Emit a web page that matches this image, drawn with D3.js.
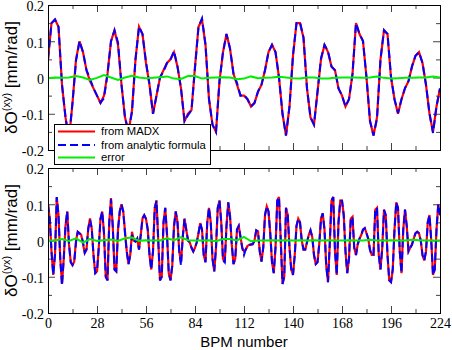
<!DOCTYPE html>
<html>
<head>
<meta charset="utf-8">
<script src="https://cdn.jsdelivr.net/npm/d3@7"></script>
<style>
  body { margin: 0; background: #fff; }
</style>
</head>
<body>
<svg id="chart" width="452" height="350"></svg>
<script>
// x axis: BPM index, one value every `step` BPMs
const bpmTicks = [0, 28, 56, 84, 112, 140, 168, 196, 224];
const bpmMinor = [14, 42, 70, 98, 126, 154, 182, 210];
const yTicks = [-0.2, -0.1, 0, 0.1, 0.2];
const yMinor = [-0.15, -0.05, 0.05, 0.15];
const legendLabels = ['from MADX', 'from analytic formula', 'error'];

const topStep = 2, bottomStep = 1, errStep = 4;

// dO(xy), read every 2 BPMs
const madxTop = [
  0.05, 0.15, 0.16, 0.14, -0.02, -0.11, -0.17, -0.07, 0.05, 0.10,
  0.07, 0.02, -0.01, -0.03, -0.05, -0.07, -0.05, 0.01, 0.10, 0.13,
  0.09, -0.02, -0.11, -0.15, -0.09, 0.05, 0.14, 0.12, 0.04, -0.02,
  -0.10, -0.05, 0.00, 0.02, 0.04, 0.05, 0.07, 0.03, -0.03, -0.12,
  -0.10, -0.09, 0.03, 0.14, 0.16, 0.09, -0.06, -0.13, -0.15, -0.01,
  0.07, 0.12, 0.08, 0.01, -0.02, -0.05, -0.05, -0.06, -0.08, -0.07,
  -0.04, -0.02, 0.02, 0.07, 0.09, 0.07, 0.00, -0.10, -0.16, -0.08,
  0.06, 0.15, 0.15, 0.11, -0.03, -0.11, -0.13, -0.04, 0.05, 0.09,
  0.07, 0.03, 0.02, -0.03, -0.05, -0.08, -0.06, 0.01, 0.15, 0.12,
  0.10, 0.00, -0.12, -0.16, -0.11, 0.05, 0.13, 0.12, 0.00, -0.06,
  -0.10, -0.06, -0.03, -0.01, 0.03, 0.06, 0.07, 0.04, -0.02, -0.10,
  -0.15, -0.08, -0.03
];
const analyticTop = [
  0.05, 0.15, 0.16, 0.14, -0.02, -0.11, -0.17, -0.07, 0.046, 0.10,
  0.07, 0.02, -0.003, -0.03, -0.05, -0.07, -0.057, 0.01, 0.10, 0.13,
  0.097, -0.02, -0.11, -0.15, -0.095, 0.05, 0.14, 0.12, 0.042, -0.02,
  -0.10, -0.05, 0.00, 0.017, 0.04, 0.05, 0.073, 0.03, -0.03, -0.12,
  -0.104, -0.09, 0.026, 0.14, 0.163, 0.09, -0.06, -0.13, -0.15, -0.01,
  0.07, 0.12, 0.08, 0.01, -0.015, -0.05, -0.047, -0.06, -0.08, -0.07,
  -0.038, -0.02, 0.02, 0.07, 0.09, 0.07, 0.00, -0.10, -0.16, -0.08,
  0.062, 0.15, 0.153, 0.11, -0.03, -0.11, -0.13, -0.04, 0.053, 0.09,
  0.073, 0.03, 0.02, -0.03, -0.05, -0.08, -0.06, 0.01, 0.15, 0.12,
  0.101, 0.00, -0.12, -0.16, -0.114, 0.05, 0.131, 0.12, 0.003, -0.06,
  -0.098, -0.06, -0.029, -0.01, 0.031, 0.06, 0.07, 0.04, -0.02, -0.10,
  -0.153, -0.08, -0.03
];
// error, read every 4 BPMs
const errorTop = [
  -0.002, 0, -0.001, 0, 0.004, 0, -0.007, -0.001, 0.007, 0,
  -0.007, 0, 0.005, 0, -0.002, -0.001, 0.001, 0.003, -0.003, -0.004,
  0.004, 0.004, -0.003, -0.001, 0, 0.001, 0, -0.005, -0.003, 0.003,
  -0.002, -0.001, 0, 0.002, 0, -0.002, -0.003, 0, 0, -0.003,
  -0.003, -0.001, 0, 0, 0, -0.001, 0, 0.003, -0.001, -0.003,
  -0.002, -0.001, -0.001, 0, 0, 0.003, 0
];

// dO(yx), read every BPM
const madxBottom = [
  0.10, 0.06, -0.03, -0.095, -0.04, 0.12, 0.07, -0.05, -0.12, -0.05,
  0.04, 0.08, -0.01, -0.06, -0.068, -0.058, 0.00, 0.024, 0.02, 0.015,
  -0.01, -0.034, -0.025, 0.033, 0.061, 0.033, -0.04, -0.09, -0.085, -0.02,
  0.06, 0.08, 0.02, -0.10, -0.11, 0.05, 0.117, 0.04, -0.08, -0.085,
  0.03, 0.08, 0.10, 0.08, 0.025, -0.03, -0.065, -0.04, 0.024, 0.00,
  -0.003, 0.005, -0.025, 0.015, 0.061, 0.07, 0.06, 0.03, -0.04, -0.08,
  -0.03, 0.09, 0.11, 0.00, -0.11, -0.10, 0.05, 0.09, 0.02, -0.09,
  -0.11, -0.07, 0.04, 0.08, 0.05, -0.03, -0.06, 0.01, 0.06, 0.03,
  0.00, -0.005, -0.02, -0.03, -0.02, -0.005, 0.02, 0.048, 0.03, -0.04,
  -0.06, 0.05, 0.09, 0.05, -0.05, -0.085, -0.02, 0.09, 0.11, 0.05,
  -0.05, -0.06, 0.04, 0.105, 0.07, -0.01, -0.065, -0.05, 0.03, 0.04,
  0.01, -0.02, -0.03, -0.025, -0.015, -0.012, -0.012, -0.01, 0.00, 0.028,
  0.025, -0.03, -0.058, -0.02, 0.07, 0.094, 0.08, 0.02, -0.06, -0.09,
  -0.02, 0.11, 0.12, 0.00, -0.12, -0.10, 0.09, 0.07, -0.02, -0.08,
  -0.095, -0.04, 0.04, 0.06, 0.05, 0.00, -0.025, -0.025, -0.005, 0.015,
  0.028, 0.01, -0.04, -0.065, -0.06, -0.01, 0.06, 0.075, 0.03, -0.07,
  -0.115, -0.01, 0.11, 0.12, -0.03, -0.095, 0.05, 0.11, 0.11, 0.07,
  -0.03, -0.09, -0.05, 0.06, 0.065, -0.02, -0.04, -0.01, 0.005, 0.015,
  0.03, 0.034, 0.02, 0.005, -0.025, -0.04, -0.04, 0.085, 0.09, -0.04,
  -0.08, -0.02, 0.085, 0.07, -0.04, -0.11, -0.115, -0.08, 0.03, 0.105,
  0.09, -0.03, -0.09, 0.03, 0.085, 0.04, -0.03, -0.02, -0.01, 0.005,
  0.02, 0.024, 0.02, 0.00, -0.04, -0.055, -0.03, 0.05, 0.07, 0.00,
  -0.095, -0.08, 0.03, 0.10, 0.07
];
const analyticBottom = [
  0.10, 0.06, -0.03, -0.095, -0.04, 0.12, 0.07, -0.05, -0.124, -0.05,
  0.04, 0.08, -0.01, -0.06, -0.068, -0.058, -0.006, 0.024, 0.02, 0.015,
  -0.004, -0.034, -0.025, 0.033, 0.057, 0.033, -0.04, -0.09, -0.085, -0.02,
  0.06, 0.08, 0.02, -0.10, -0.11, 0.05, 0.114, 0.04, -0.08, -0.085,
  0.03, 0.08, 0.10, 0.08, 0.019, -0.03, -0.065, -0.04, 0.016, 0.00,
  -0.003, 0.005, -0.025, 0.015, 0.061, 0.07, 0.06, 0.03, -0.04, -0.08,
  -0.03, 0.09, 0.11, 0.00, -0.11, -0.10, 0.05, 0.09, 0.014, -0.09,
  -0.11, -0.07, 0.04, 0.08, 0.05, -0.03, -0.069, 0.01, 0.06, 0.03,
  0.00, -0.005, -0.02, -0.03, -0.02, -0.005, 0.02, 0.048, 0.03, -0.04,
  -0.06, 0.05, 0.09, 0.05, -0.05, -0.085, -0.02, 0.09, 0.11, 0.05,
  -0.054, -0.06, 0.04, 0.105, 0.066, -0.01, -0.065, -0.05, 0.03, 0.04,
  0.01, -0.02, -0.04, -0.025, -0.015, -0.012, -0.01, -0.01, 0.00, 0.028,
  0.025, -0.03, -0.058, -0.02, 0.07, 0.094, 0.08, 0.02, -0.06, -0.09,
  -0.02, 0.11, 0.12, 0.00, -0.12, -0.10, 0.09, 0.07, -0.02, -0.08,
  -0.095, -0.04, 0.04, 0.06, 0.05, 0.00, -0.025, -0.025, -0.005, 0.015,
  0.028, 0.01, -0.04, -0.065, -0.06, -0.01, 0.06, 0.075, 0.03, -0.07,
  -0.115, -0.01, 0.11, 0.12, -0.03, -0.095, 0.05, 0.11, 0.11, 0.07,
  -0.03, -0.09, -0.05, 0.06, 0.065, -0.02, -0.04, -0.01, 0.005, 0.015,
  0.03, 0.034, 0.02, 0.005, -0.027, -0.04, -0.04, 0.085, 0.09, -0.04,
  -0.08, -0.02, 0.085, 0.07, -0.04, -0.11, -0.115, -0.08, 0.03, 0.105,
  0.09, -0.03, -0.09, 0.03, 0.085, 0.04, -0.03, -0.02, -0.012, 0.005,
  0.02, 0.024, 0.02, 0.00, -0.04, -0.055, -0.03, 0.05, 0.07, 0.00,
  -0.095, -0.08, 0.03, 0.10, 0.07
];
const errorBottom = [
  0, 0, 0.004, -0.001, 0.006, -0.006, 0.004, -0.001, 0.001, 0.003,
  -0.001, 0.006, 0.008, -0.001, 0.001, 0, 0, 0.006, 0.001, 0.009,
  0.001, 0, 0, 0.001, -0.002, 0.004, 0.004, 0, 0.01, -0.002,
  0, 0, 0.001, 0, 0.001, 0, 0.001, 0, 0.001, 0,
  0.001, 0, 0, 0.001, 0, 0, 0.002, 0, 0, 0.001,
  0, 0, 0.002, 0.001, 0, 0, 0
];

const left = 48, right = 440;
const svg = d3.select('#chart');

let x = d3.scaleLinear().domain([0, 224]).range([left, right]);

const panels = [
  { id: 'top', y0: 5, y1: 150, madx: madxTop, analytic: analyticTop, error: errorTop, step: topStep, pair: 'xy', xLabels: false },
  { id: 'bot', y0: 168, y1: 313, madx: madxBottom, analytic: analyticBottom, error: errorBottom, step: bottomStep, pair: 'yx', xLabels: true }
];

const serif = '"Liberation Serif", "Times New Roman", serif';
const sans = '"Liberation Sans", Arial, Helvetica, sans-serif';

panels.forEach(p => {
  let y = d3.scaleLinear().domain([-0.2, 0.2]).range([p.y1, p.y0]);

  svg.append('clipPath').attr('id', 'clip-' + p.id)
    .append('rect')
    .attr('x', left).attr('y', p.y0)
    .attr('width', right - left).attr('height', p.y1 - p.y0);

  let g = svg.append('g');

  // ticks on all four sides, pointing inwards
  const addAxis = (axis, tx, ty, labels) => {
    let a = g.append('g')
      .attr('transform', 'translate(' + tx + ',' + ty + ')')
      .call(axis);
    a.select('.domain').remove();
    a.selectAll('line').attr('stroke', '#444');
    if (!labels) a.selectAll('text').remove();
    return a;
  };

  let xb = addAxis(d3.axisBottom(x).tickValues(bpmTicks).tickSize(-7).tickPadding(5), 0, p.y1, p.xLabels);
  xb.selectAll('text').style('font-family', serif).style('font-size', '14px').attr('fill', '#000');
  addAxis(d3.axisBottom(x).tickValues(bpmMinor).tickSize(-4), 0, p.y1, false);
  addAxis(d3.axisTop(x).tickValues(bpmTicks).tickSize(-7), 0, p.y0, false);
  addAxis(d3.axisTop(x).tickValues(bpmMinor).tickSize(-4), 0, p.y0, false);

  let yl = addAxis(d3.axisLeft(y).tickValues(yTicks).tickSize(-7).tickPadding(4)
    .tickFormat(d => d === 0 ? '0' : d.toFixed(1)), left, 0, true);
  yl.selectAll('text')
    .attr('dy', '0.42em')
    .style('font-family', serif).style('font-size', '14px').attr('fill', '#000');
  addAxis(d3.axisLeft(y).tickValues(yMinor).tickSize(-4), left, 0, false);
  addAxis(d3.axisRight(y).tickValues(yTicks).tickSize(-7), right, 0, false);
  addAxis(d3.axisRight(y).tickValues(yMinor).tickSize(-4), right, 0, false);

  let line = step => d3.line()
    .x((d, i) => x(i * step))
    .y(d => y(d));

  let plot = g.append('g').attr('clip-path', 'url(#clip-' + p.id + ')');

  plot.append('path')
    .datum(p.madx)
    .attr('d', line(p.step))
    .attr('fill', 'none')
    .attr('stroke', '#ff0000')
    .attr('stroke-width', 2.2);

  plot.append('path')
    .datum(p.analytic)
    .attr('d', line(p.step))
    .attr('fill', 'none')
    .attr('stroke', '#0000ff')
    .attr('stroke-width', 2)
    .attr('stroke-dasharray', '8,4');

  plot.append('path')
    .datum(p.error)
    .attr('d', line(errStep))
    .attr('fill', 'none')
    .attr('stroke', '#00ee00')
    .attr('stroke-width', 2);

  // frame
  g.append('rect')
    .attr('x', left + 0.5).attr('y', p.y0 + 0.5)
    .attr('width', right - left).attr('height', p.y1 - p.y0)
    .attr('fill', 'none')
    .attr('stroke', '#000');

  // y title
  let mid = (p.y0 + p.y1) / 2;
  let t = svg.append('text')
    .attr('transform', 'translate(17,' + mid + ') rotate(-90)')
    .attr('text-anchor', 'middle')
    .style('font-family', sans)
    .style('font-size', '17px');
  t.append('tspan').text('δO');
  t.append('tspan').attr('dy', -7).style('font-size', '11px').text('(' + p.pair + ')');
  t.append('tspan').attr('dy', 7).text(' [mm/rad]');
});

svg.append('text')
  .attr('x', 244).attr('y', 347)
  .attr('text-anchor', 'middle')
  .style('font-family', sans)
  .style('font-size', '15px')
  .text('BPM number');

// legend
const legendStyles = [
  { color: '#ff0000', dash: null },
  { color: '#0000ff', dash: '8,4' },
  { color: '#00ee00', dash: null }
];
const legendRows = [131.5, 145, 157.5];

let lg = svg.append('g');
lg.append('rect')
  .attr('x', 54.5).attr('y', 124.5)
  .attr('width', 156).attr('height', 40)
  .attr('fill', '#fff')
  .attr('stroke', '#000');

legendLabels.forEach((label, i) => {
  lg.append('line')
    .attr('x1', 58).attr('x2', 95)
    .attr('y1', legendRows[i]).attr('y2', legendRows[i])
    .attr('stroke', legendStyles[i].color)
    .attr('stroke-width', 2)
    .attr('stroke-dasharray', legendStyles[i].dash);
  lg.append('text')
    .attr('x', 101).attr('y', legendRows[i])
    .attr('dy', '0.35em')
    .style('font-family', sans)
    .style('font-size', '11.3px')
    .text(label);
});
</script>
</body>
</html>
